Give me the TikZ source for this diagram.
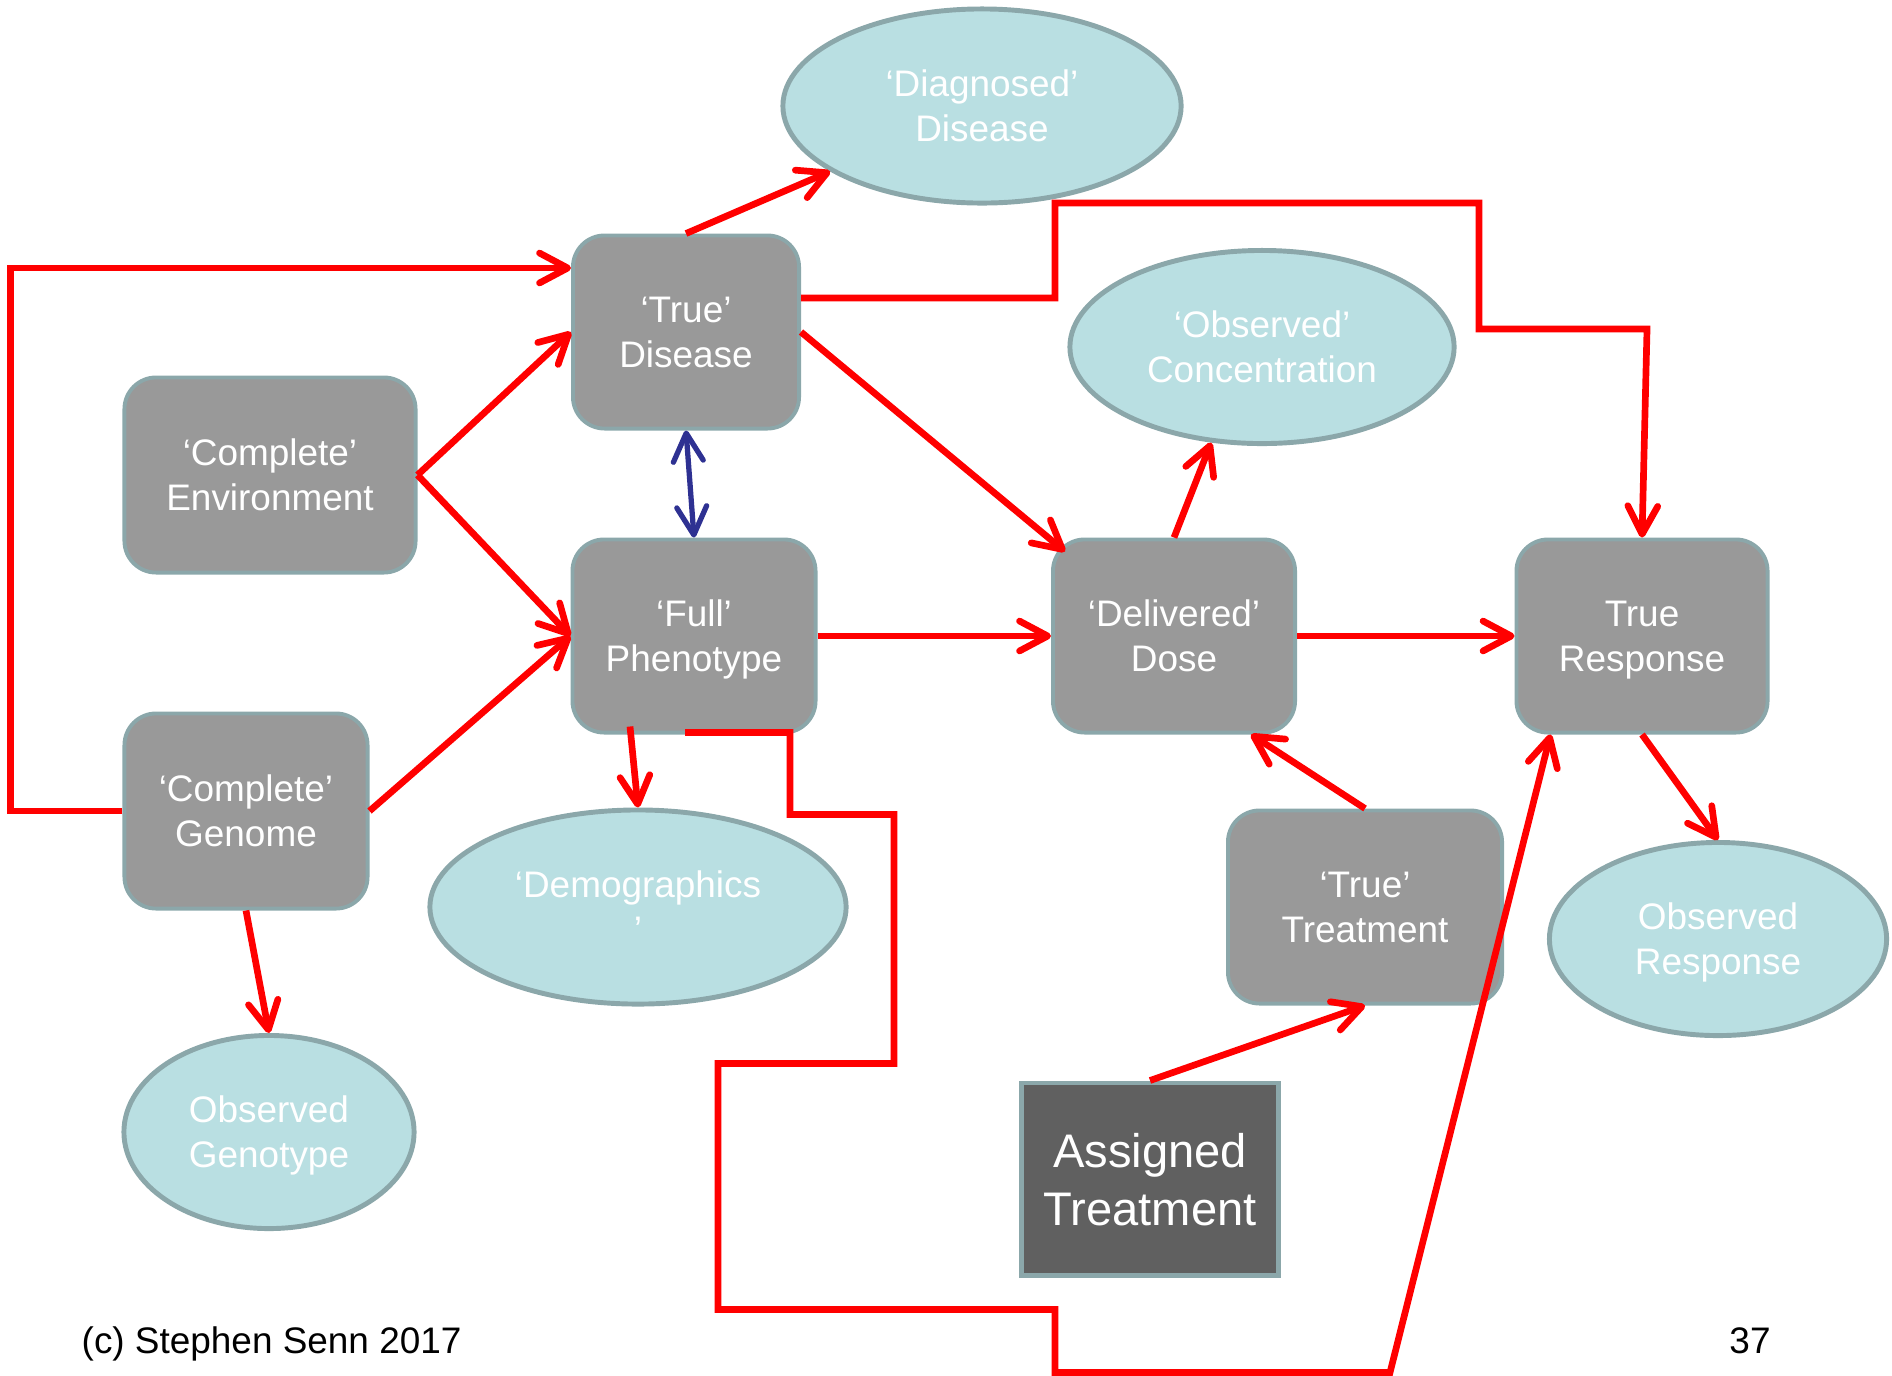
\documentclass[tikz,border=0pt]{standalone}
\usepackage{fontspec}
\setmainfont{Liberation Sans}
\usetikzlibrary{positioning,arrows.meta,calc,shapes.geometric}
\definecolor{boxgrey}{HTML}{999999}
\definecolor{edgeteal}{HTML}{8BA7AA}
\definecolor{ovalblue}{HTML}{B9DFE2}
\definecolor{darkbox}{HTML}{606060}
\definecolor{linkred}{HTML}{FF0000}
\definecolor{linkblue}{HTML}{2E3192}
\tikzset{
  box/.style={draw=edgeteal,fill=boxgrey,line width=1.1pt,rounded corners=9pt,
    text=white,align=center,inner sep=0pt,text depth=0pt,
    font=\fontsize{10.5}{12.8}\selectfont},
  oval/.style={ellipse,draw=edgeteal,fill=ovalblue,line width=1.4pt,
    text=white,align=center,inner sep=0pt,text depth=0pt,
    font=\fontsize{10.5}{12.8}\selectfont},
  link/.style={->,linkred,line width=1.9pt}
}

\begin{document}
\begin{tikzpicture}[x=0.01cm,y=-0.01cm,>={Straight Barb[length=8pt,width=8.5pt,round]}]
	\useasboundingbox (0,0) rectangle (1892,1375);
	\node[oval,minimum width=3.98cm,minimum height=1.94cm] (diag) at (982,106) {‘Diagnosed’\\Disease};
	\node[box,minimum width=2.26cm,minimum height=1.93cm] (dis) at (686,332) {‘True’\\Disease};
	\node[box,minimum width=2.91cm,minimum height=1.95cm] (env) at (270,475) {‘Complete’\\Environment};
	\node[oval,minimum width=3.84cm,minimum height=1.93cm] (conc) at (1262,347) {‘Observed’\\Concentration};
	\node[box,minimum width=2.43cm,minimum height=1.93cm] (phen) at (694,636) {‘Full’\\Phenotype};
	\node[box,minimum width=2.42cm,minimum height=1.93cm] (dose) at (1174,636) {‘Delivered’\\Dose};
	\node[box,minimum width=2.51cm,minimum height=1.93cm] (resp) at (1642,636) {True\\Response};
	\node[box,minimum width=2.43cm,minimum height=1.95cm] (gen) at (246,811) {‘Complete’\\Genome};
	\node[oval,minimum width=4.16cm,minimum height=1.94cm] (demo) at (638,907) {‘Demographics\\’};
	\node[box,minimum width=2.74cm,minimum height=1.93cm] (treat) at (1365,907) {‘True’\\Treatment};
	\node[oval,minimum width=3.37cm,minimum height=1.93cm] (obsresp) at (1718,939) {Observed\\Response};
	\node[oval,minimum width=2.90cm,minimum height=1.93cm] (geno) at (269,1132) {Observed\\Genotype};
	\node[draw=edgeteal,fill=darkbox,line width=1.4pt,text=white,align=center,inner sep=0pt,text depth=0pt,
	  minimum width=2.56cm,minimum height=1.92cm,font=\fontsize{13.4}{16.5}\selectfont] (assign) at (1150,1179) {Assigned\\Treatment};
	\node[anchor=base west,inner sep=0pt,font=\fontsize{10.5}{12.8}\selectfont] (credit) at (81,1353) {(c) Stephen Senn 2017};
	\node[anchor=base,inner sep=0pt,font=\fontsize{10.5}{12.8}\selectfont] (page) at (1750,1353) {37};
	% causes
	\draw[link] (gen.west) -- ++(-112,0) |- ($(dis.west)+(0,-64)$);
	\draw[link] (env.east) -- (dis.west);
	\draw[link] (env.east) -- (phen.west);
	\draw[link] (gen.east) -- (phen.west);
	\draw[link] (dis.north) -- (diag);
	\draw[link] ($(dis.east)+(0,-34)$) -- ++(254,0) -- ++(0,-95) -- ++(424,0) -- ++(0,126) -- ++(168,0) -- (resp.north);
	\draw[link] (dis.east) -- ($(dose.north west)+(14,14)$);
	\draw[<->,linkblue,line width=1.5pt] (dis.south) -- (phen.north);
	\draw[link] (phen.east) -- (dose.west);
	\draw[link] (dose.north) -- (conc.242);
	\draw[link] (dose.east) -- (resp.west);
	\draw[link] ($(phen.south)+(-64,-8)$) -- (demo.north);
	\draw[link] ($(phen.south)+(-9,-2)$) -- ++(105,0) -- ++(0,82) -- ++(104,0) -- ++(0,249) -- ++(-176,0) -- ++(0,246) -- ++(337,0) -- ++(0,63) -- ++(335,0) -- ($(resp.south west)+(36,0)$);
	\draw[link] (treat.north) -- ($(dose.south east)+(-46,0)$);
	\draw[link] (resp.south) -- (obsresp.north);
	\draw[link] (gen.south) -- (geno.north);
	% assignment
	\draw[link] (assign.north) -- (treat.south);
\end{tikzpicture}
\end{document}
